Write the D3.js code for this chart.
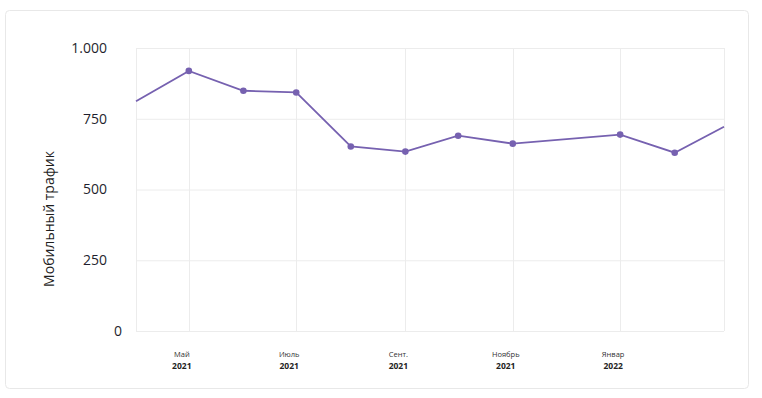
<!DOCTYPE html>
<html><head><meta charset="utf-8">
<script src="https://cdn.jsdelivr.net/npm/d3@7"></script>
<style>
html,body{margin:0;padding:0;background:#fff;}
svg{display:block;font-family:"Open Sans","DejaVu Sans",sans-serif;}
</style></head>
<body><svg id="c" width="762" height="398"></svg>
<script>
const dates = ["2021-04-01","2021-05-01","2021-06-01","2021-07-01","2021-08-01","2021-09-01","2021-10-01","2021-11-01","2022-01-01","2022-02-01","2022-03-01"];
const values = [812, 919, 849, 843, 652, 634, 690, 662, 694, 630, 722];
const tickDates = ["2021-05-01","2021-07-01","2021-09-01","2021-11-01","2022-01-01"];
const tickMonths = ["Май","Июль","Сент.","Ноябрь","Январ"];
const tickYears = ["2021","2021","2021","2021","2022"];
const yTicks = [0, 250, 500, 750, 1000];
const yTickLabels = ["0","250","500","750","1.000"];
const yTitle = "Мобильный трафик";

const parse = d3.timeParse("%Y-%m-%d");
const data = dates.map((d,i)=>({date:parse(d), value:values[i]}));
const svg = d3.select("#c");

svg.append("rect").attr("x",5.5).attr("y",10.5).attr("width",743).attr("height",378)
  .attr("rx",4).attr("fill","#fff").attr("stroke","#e8e8e8");

const x = d3.scaleTime().domain([parse(dates[0]), parse(dates[dates.length-1])]).range([136,724]);
const y = d3.scaleLinear().domain([0,1000]).range([331,48]);

const g = svg.append("g");
g.selectAll(".hg").data(yTicks).join("line")
  .attr("x1",136).attr("x2",724).attr("y1",d=>y(d)+0.5).attr("y2",d=>y(d)+0.5)
  .attr("stroke","#ececec").attr("stroke-width",1);
const vlines = [parse(dates[0])].concat(tickDates.map(parse)).concat([parse(dates[dates.length-1])]);
g.selectAll(".vg").data(vlines).join("line")
  .attr("x1",d=>Math.round(x(d))+0.5).attr("x2",d=>Math.round(x(d))+0.5).attr("y1",48).attr("y2",331)
  .attr("stroke","#ececec").attr("stroke-width",1);

g.selectAll(".yl").data(yTicks).join("text")
  .attr("x",d=>d===0?122:107).attr("y",d=>y(d)).attr("dy","0.35em")
  .attr("text-anchor","end").attr("font-size",14).attr("fill","#1f1f2e")
  .text((d,i)=>yTickLabels[i]);

svg.append("text").attr("transform","translate(54,219) rotate(-90)")
  .attr("text-anchor","middle").attr("font-size",14).attr("fill","#1f1f1f").text(yTitle);

const xl = g.selectAll(".xl").data(tickDates).join("g")
  .attr("transform",d=>`translate(${x(parse(d))-7},0)`);
xl.append("text").attr("y",357).attr("text-anchor","middle").attr("font-size",7.5).attr("fill","#333")
  .text((d,i)=>tickMonths[i]);
xl.append("text").attr("y",369).attr("text-anchor","middle").attr("font-size",8.5).attr("font-weight","bold").attr("fill","#222")
  .text((d,i)=>tickYears[i]);

const line = d3.line().x(d=>x(d.date)).y(d=>y(d.value));
g.append("path").datum(data).attr("d",line).attr("fill","none")
  .attr("stroke","#7661b0").attr("stroke-width",1.8);
g.selectAll(".pt").data(data.slice(1,-1)).join("circle")
  .attr("cx",d=>x(d.date)).attr("cy",d=>y(d.value)).attr("r",3.3).attr("fill","#7661b0");
</script></body></html>
